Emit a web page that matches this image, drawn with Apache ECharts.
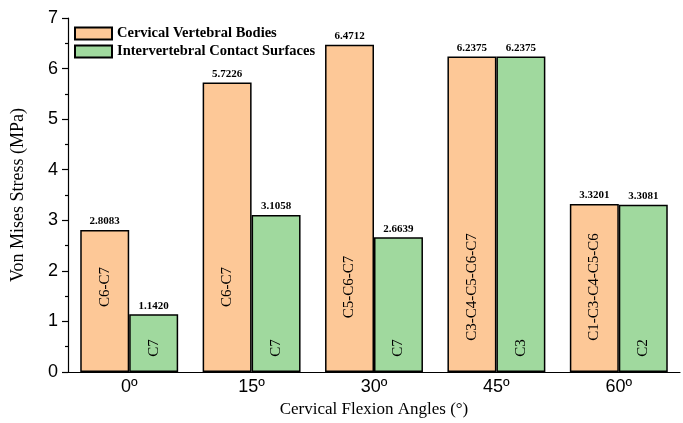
<!DOCTYPE html>
<html>
<head>
<meta charset="utf-8">
<script src="https://cdn.jsdelivr.net/npm/echarts@6/dist/echarts.min.js"></script>
<style>
  html, body { margin: 0; padding: 0; background: #fff; }
  #chart { width: 683px; height: 423px; }
</style>
</head>
<body>
<div id="chart"></div>
<script>
const categories = ["0º", "15º", "30º", "45º", "60º"];
const seriesNames = ["Cervical Vertebral Bodies", "Intervertebral Contact Surfaces"];
const bodiesStress = [2.8083, 5.7226, 6.4712, 6.2375, 3.3201];
const surfacesStress = [1.1420, 3.1058, 2.6639, 6.2375, 3.3081];
const bodiesSegments = ["C6-C7", "C6-C7", "C5-C6-C7", "C3-C4-C5-C6-C7", "C1-C3-C4-C5-C6"];
const surfacesSegments = ["C7", "C7", "C7", "C3", "C2"];

const SERIF = '"Liberation Serif", "Times New Roman", serif';
const SANS = '"Liberation Sans", Arial, sans-serif';
const colors = ["#FDC897", "#A0D99E"];

const chart = echarts.init(document.getElementById("chart"));

// visible bars with value on top
const mainBar = (name, data, color) => ({
    name: name,
    type: "bar",
    xAxisIndex: 0,
    data: data,
    barGap: "0%",
    barCategoryGap: "20%",
    itemStyle: { color: color, borderColor: "#000", borderWidth: 1.5 },
    label: {
        show: true,
        position: "top",
        distance: 3,
        formatter: (p) => p.value.toFixed(4),
        fontFamily: SERIF,
        fontWeight: "bold",
        fontSize: 11,
        color: "#000",
    },
});

// transparent copy on the second x axis, only for the rotated segment text
const segmentBar = (name, data, names, dist) => ({
    name: name + " segments",
    type: "bar",
    xAxisIndex: 1,
    data: data,
    barGap: "0%",
    barCategoryGap: "20%",
    silent: true,
    itemStyle: { color: "rgba(0,0,0,0)", borderWidth: 0 },
    label: {
        show: true,
        position: "insideBottom",
        distance: dist,
        rotate: 90,
        align: "center",
        verticalAlign: "middle",
        formatter: (p) => names[p.dataIndex],
        fontFamily: SERIF,
        fontSize: 15,
        color: "#000",
    },
});

const option = {
    animation: false,
    grid: { left: 68, right: 3, top: 18, bottom: 51 },
    legend: {
        data: seriesNames.map((n) => ({ name: n, icon: "rect" })),
        orient: "vertical",
        left: 69,
        top: 21,
        itemWidth: 37,
        itemHeight: 12,
        itemGap: 3,
        textStyle: { fontFamily: SERIF, fontWeight: "bold", fontSize: 14.5, color: "#000" },
    },
    xAxis: [
        {
            type: "category",
            data: categories,
            name: "Cervical Flexion Angles (°)",
            nameLocation: "middle",
            nameGap: 27,
            nameTextStyle: { fontFamily: SERIF, fontSize: 17, color: "#000" },
            axisLine: { lineStyle: { color: "#000", width: 1.2 } },
            axisTick: { alignWithLabel: true, length: 6, lineStyle: { color: "#000", width: 1.2 } },
            axisLabel: { fontFamily: SANS, fontSize: 18, color: "#000", margin: 6 },
        },
        {
            type: "category",
            data: categories,
            position: "bottom",
            axisLine: { show: false },
            axisTick: { length: 3, lineStyle: { color: "#000", width: 1.2 } },
            axisLabel: { show: false },
        },
    ],
    yAxis: {
        type: "value",
        min: 0,
        max: 7,
        interval: 1,
        name: "Von Mises Stress (MPa)",
        nameLocation: "middle",
        nameGap: 41,
        nameTextStyle: { fontFamily: SERIF, fontSize: 18, color: "#000" },
        axisLine: { show: true, lineStyle: { color: "#000", width: 1.2 } },
        axisTick: { show: true, length: 6, lineStyle: { color: "#000", width: 1.2 } },
        minorTick: { show: true, splitNumber: 2, length: 3, lineStyle: { color: "#000", width: 1.2 } },
        splitLine: { show: false },
        axisLabel: { fontFamily: SANS, fontSize: 18, color: "#000", margin: 10 },
    },
    series: [
        mainBar(seriesNames[0], bodiesStress, colors[0]),
        mainBar(seriesNames[1], surfacesStress, colors[1]),
        segmentBar(seriesNames[0], bodiesStress, bodiesSegments, 85),
        segmentBar(seriesNames[1], surfacesStress, surfacesSegments, 24),
    ],
};

chart.setOption(option);
</script>
</body>
</html>
